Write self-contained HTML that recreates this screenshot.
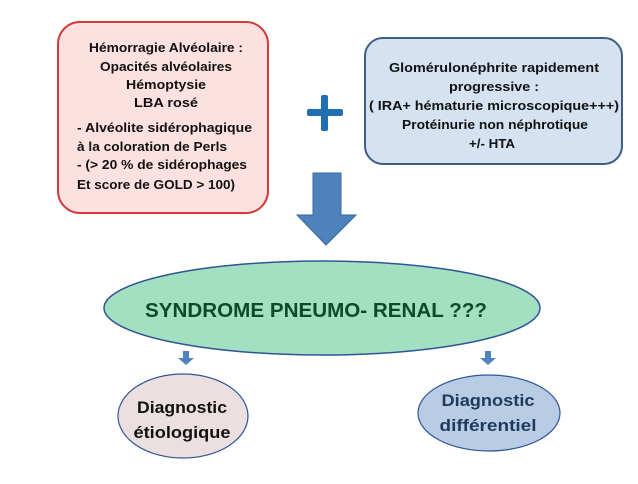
<!DOCTYPE html>
<html><head><meta charset="utf-8"><style>
body{margin:0;width:638px;height:479px;background:#fff;overflow:hidden}
svg text{font-family:"Liberation Sans",sans-serif;font-weight:bold}
</style></head><body>
<svg width="638" height="479" viewBox="0 0 638 479">
<rect x="58" y="22" width="210" height="191" rx="22" fill="#fde0e0" stroke="#d23b3b" stroke-width="2"/>
<g font-size="13" fill="#111" text-anchor="middle">
<text x="166" y="52" textLength="154" lengthAdjust="spacingAndGlyphs">Hémorragie Alvéolaire :</text>
<text x="166" y="71" textLength="132" lengthAdjust="spacingAndGlyphs">Opacités alvéolaires</text>
<text x="166" y="89" textLength="80" lengthAdjust="spacingAndGlyphs">Hémoptysie</text>
<text x="166" y="107" textLength="64" lengthAdjust="spacingAndGlyphs">LBA  rosé</text>
</g>
<g font-size="13" fill="#111">
<text x="77" y="132" textLength="175" lengthAdjust="spacingAndGlyphs">- Alvéolite sidérophagique</text>
<text x="77" y="151" textLength="150" lengthAdjust="spacingAndGlyphs">à la coloration de Perls</text>
<text x="77" y="169" textLength="170" lengthAdjust="spacingAndGlyphs">- (&gt; 20 % de sidérophages</text>
<text x="77" y="189" textLength="158" lengthAdjust="spacingAndGlyphs">Et score de GOLD &gt; 100)</text>
</g>
<rect x="365" y="38" width="257" height="126" rx="18" fill="#d5e2f2" stroke="#3f5e86" stroke-width="2"/>
<g font-size="13" fill="#111" text-anchor="middle">
<text x="494" y="72" textLength="210" lengthAdjust="spacingAndGlyphs">Glomérulonéphrite rapidement</text>
<text x="494" y="91" textLength="90" lengthAdjust="spacingAndGlyphs">progressive :</text>
<text x="494" y="110" textLength="250" lengthAdjust="spacingAndGlyphs">( IRA+ hématurie microscopique+++)</text>
<text x="495" y="129" textLength="186" lengthAdjust="spacingAndGlyphs">Protéinurie non néphrotique</text>
<text x="492" y="148" textLength="46" lengthAdjust="spacingAndGlyphs">+/- HTA</text>
</g>
<rect x="307" y="109" width="36" height="7" rx="2" fill="#1f6fb2"/>
<rect x="321" y="95" width="7" height="36" rx="2" fill="#1f6fb2"/>
<polygon points="313,173 341,173 341,215 356,215 326,245 297,215 313,215" fill="#4f81bd" stroke="#3a679e" stroke-width="1"/>
<ellipse cx="322" cy="308" rx="218" ry="47" fill="#a2e0c1" stroke="#2f5597" stroke-width="1.5"/>
<text x="316" y="317" font-size="20" fill="#0d4a2a" text-anchor="middle" textLength="342" lengthAdjust="spacingAndGlyphs">SYNDROME PNEUMO- RENAL ???</text>
<polygon points="183,351 189,351 189,358 194,358 186,365 178,358 183,358" fill="#4f81bd"/>
<polygon points="485,351 491,351 491,358 496,358 488,365 480,358 485,358" fill="#4f81bd"/>
<ellipse cx="183" cy="416" rx="65" ry="42" fill="#ebdfdf" stroke="#2f5597" stroke-width="1.2"/>
<text x="182" y="413" font-size="17" fill="#111" text-anchor="middle" textLength="90" lengthAdjust="spacingAndGlyphs">Diagnostic</text>
<text x="182" y="438" font-size="17" fill="#111" text-anchor="middle" textLength="97" lengthAdjust="spacingAndGlyphs">étiologique</text>
<ellipse cx="489" cy="413" rx="71" ry="38" fill="#b8cce4" stroke="#2f5597" stroke-width="1.2"/>
<text x="488" y="406" font-size="17" fill="#1f3a5f" text-anchor="middle" textLength="93" lengthAdjust="spacingAndGlyphs">Diagnostic</text>
<text x="488" y="431" font-size="17" fill="#1f3a5f" text-anchor="middle" textLength="97" lengthAdjust="spacingAndGlyphs">différentiel</text>
</svg>
</body></html>
